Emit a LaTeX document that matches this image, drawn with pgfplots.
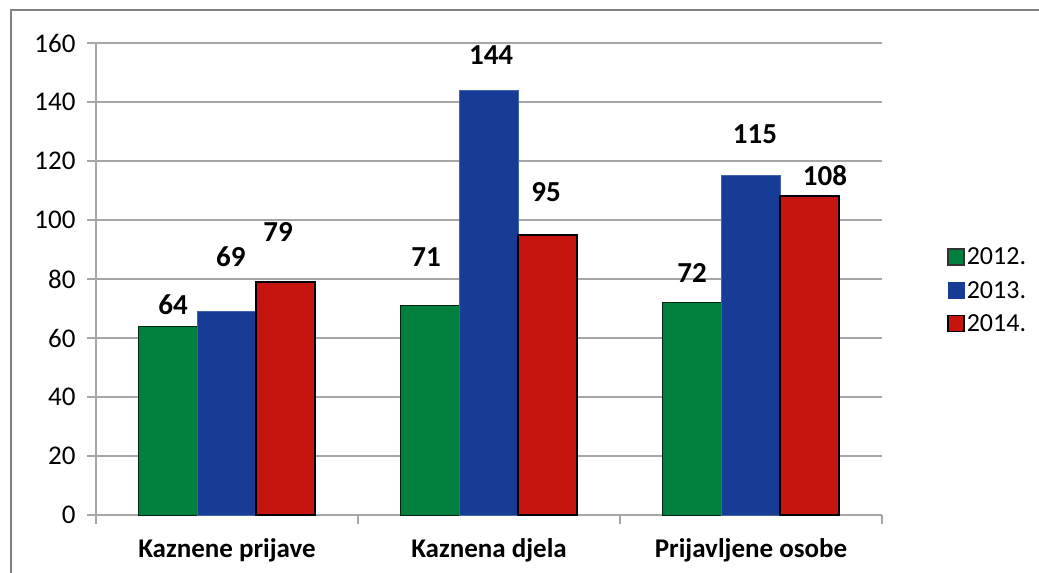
\documentclass[border=0pt]{standalone}
\usepackage{fontspec}
\setmainfont{Carlito}
\usepackage{pgfplots}
\pgfplotsset{compat=1.18}

\definecolor{g12}{HTML}{00803C}
\definecolor{b13}{HTML}{163C96}
\definecolor{r14}{HTML}{C8140E}
\definecolor{gridc}{HTML}{A6A6A6}

\begin{document}
\begin{tikzpicture}
\path[use as bounding box] (0,0) rectangle (1039pt,573pt);
\draw[gray, line width=2.5pt] (11pt,0pt) -- (11pt,563pt) -- (1045pt,563pt);
\begin{axis}[
    at={(96pt,58pt)}, anchor=south west,
    scale only axis, width=786pt, height=472pt,
    xmin=0, xmax=3, ymin=0, ymax=160,
    ytick={0,20,...,160},
    xtick={0,1,2,3}, xticklabels={},
    extra x ticks={0.5,1.5,2.5},
    extra x tick labels={Kaznene prijave, Kaznena djela, Prijavljene osobe},
    extra x tick style={major tick length=0pt, grid=none,
        tick label style={font=\fontsize{27}{31}\selectfont\bfseries, yshift=-20pt}},
    axis lines=left, axis line style={-, draw=gridc, line width=1.5pt},
    tick align=outside, major tick length=9pt,
    tick style={draw=gridc, line width=1.5pt},
    ymajorgrids, grid style={draw=gridc, line width=1.5pt},
    ticklabel style={font=\fontsize{27}{31}\selectfont},
    yticklabel style={xshift=-8pt},
    /pgf/number format/assume math mode=true,
    legend style={at={(1.079,0.575)}, anchor=north west, draw=none, fill=none,
        font=\fontsize{26}{30}\selectfont, row sep=11pt,
        /tikz/every even column/.append style={column sep=4pt}},
    legend cell align=left,
]
\addplot[ybar, bar width=58.7pt, bar shift=-58.7pt,
    fill=g12, draw=black!70!g12, line width=1pt,
    legend image code/.code={\draw[fill=g12, draw=black!80, line width=1.5pt] (0pt,-8pt) rectangle (16pt,8pt);}]
    coordinates {(0.5,64) (1.5,71) (2.5,72)};
\addplot[ybar, bar width=58.7pt, bar shift=0pt,
    fill=b13, draw=b13!80!white, line width=0.8pt,
    legend image code/.code={\fill[b13] (0pt,-8pt) rectangle (16pt,8pt);}]
    coordinates {(0.5,69) (1.5,144) (2.5,115)};
\addplot[ybar, bar width=58.7pt, bar shift=58.7pt,
    fill=r14, draw=black, line width=2pt,
    legend image code/.code={\draw[fill=r14, draw=black, line width=1.5pt] (0pt,-8pt) rectangle (16pt,8pt);}]
    coordinates {(0.5,79) (1.5,95) (2.5,108)};
\legend{2012., 2013., 2014.}
% value labels, placed where the chart has them
\addplot[only marks, mark=none,
    nodes near coords, point meta=explicit symbolic,
    every node near coord/.style={anchor=center, font=\fontsize{29}{33}\selectfont\bfseries},
    forget plot]
    coordinates {
    (0.294,71.2)[64] (0.515,87.5)[69] (0.695,96.0)[79]
    (1.260,87.5)[71] (1.508,155.9)[144] (1.718,109.5)[95]
    (2.275,82.0)[72] (2.515,129.2)[115] (2.782,114.9)[108]
    };
\end{axis}
\end{tikzpicture}
\end{document}
